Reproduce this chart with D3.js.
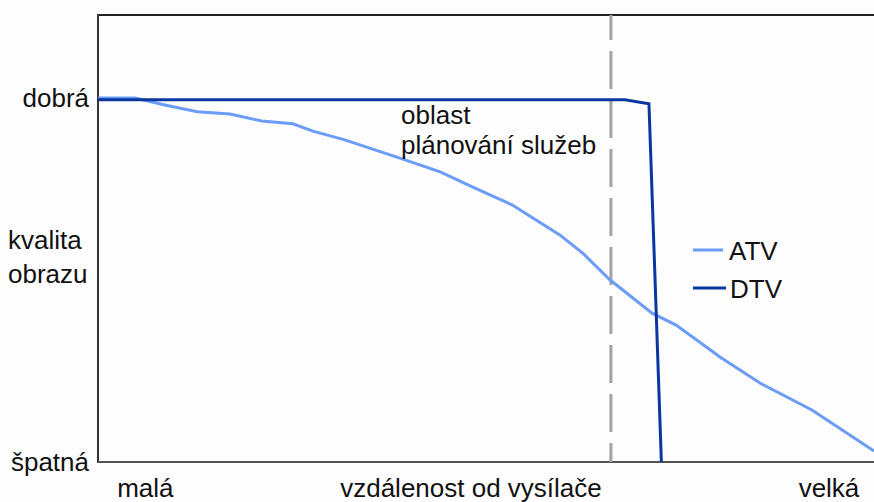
<!DOCTYPE html>
<html>
<head>
<meta charset="utf-8">
<script src="https://cdn.jsdelivr.net/npm/d3@7"></script>
<style>
  body { margin: 0; background: #fdfdfd; }
  svg { display: block; }
  text { font-family: "Liberation Sans", Arial, sans-serif; font-size: 26px; fill: #111; }
</style>
</head>
<body>
<svg width="874" height="502"></svg>
<script>
// vzdálenost (0 = malá, 100 = velká), kvalita (0 = špatná, 100 = dobrá)
var atvDist    = [0, 4.8, 8.6, 12.8, 17.0, 21.1, 25.1, 27.7, 31.8, 38.9, 44.1, 48.3, 53.4, 59.5, 62.1, 62.6, 66.0, 71.4, 74.5, 80.2, 85.3, 92.0, 100];
var atvQuality = [100, 100, 98.1, 96.2, 95.6, 93.7, 92.9, 90.9, 88.5, 83.5, 79.7, 75.5, 70.6, 62.4, 58.0, 57.1, 50.0, 40.9, 37.6, 28.8, 21.7, 14.3, 3.0];

var dtvDist    = [0, 67.9, 71.0, 72.6];
var dtvQuality = [99.5, 99.5, 98.4, 0];

var planningLimit = 66.1;   // hranice oblasti plánování
var yTickVals   = [100, 0];
var yTickLabels = ["dobrá", "špatná"];
var xTickVals   = [6.1, 94.2];
var xTickLabels = ["malá", "velká"];
var yTitle = ["kvalita", "obrazu"];
var xTitle = "vzdálenost od vysílače";
var areaLabel = ["oblast", "plánování služeb"];
var seriesNames = ["ATV", "DTV"];
var seriesColors = ["#6a9cf8", "#0a36a0"];

var svg = d3.select("svg");

var x = d3.scaleLinear().domain([0, 100]).range([98, 874]);
var y = d3.scaleLinear().domain([0, 100]).range([462, 98]);

var line = d3.line()
    .x(function(d) { return x(d[0]); })
    .y(function(d) { return y(d[1]); });

// frame: left, top, bottom
svg.append("path")
    .attr("d", "M" + x(0) + "," + (y(100) - 83) + "H874")
    .attr("stroke", "#222").attr("stroke-width", 2).attr("fill", "none");
svg.append("line")
    .attr("x1", x(0)).attr("x2", x(0))
    .attr("y1", y(100) - 84).attr("y2", y(0) + 1)
    .attr("stroke", "#333").attr("stroke-width", 2);
svg.append("line")
    .attr("x1", x(0)).attr("x2", 874)
    .attr("y1", y(0)).attr("y2", y(0))
    .attr("stroke", "#555").attr("stroke-width", 2);

// service planning boundary
svg.append("line")
    .attr("x1", x(planningLimit)).attr("x2", x(planningLimit))
    .attr("y1", y(100) - 83).attr("y2", y(0))
    .attr("stroke", "#a3a3a3").attr("stroke-width", 3)
    .attr("stroke-dasharray", "38,11")
    .attr("stroke-dashoffset", 13);

var atv = atvDist.map(function(d, i) { return [d, atvQuality[i]]; });
var dtv = dtvDist.map(function(d, i) { return [d, dtvQuality[i]]; });

svg.append("path").datum(atv)
    .attr("d", line)
    .attr("fill", "none")
    .attr("stroke", seriesColors[0]).attr("stroke-width", 3);

svg.append("path").datum(dtv)
    .attr("d", line)
    .attr("fill", "none")
    .attr("stroke", seriesColors[1]).attr("stroke-width", 3);

// y tick labels
svg.selectAll(".ytick")
    .data(yTickVals)
  .enter().append("text")
    .attr("class", "ytick")
    .attr("x", 89)
    .attr("y", function(d) { return y(d) + 9; })
    .attr("text-anchor", "end")
    .text(function(d, i) { return yTickLabels[i]; });

svg.selectAll(".ytitle")
    .data(yTitle)
  .enter().append("text")
    .attr("class", "ytitle")
    .attr("x", 8)
    .attr("y", function(d, i) { return 249 + i * 34; })
    .text(function(d) { return d; });

// x tick labels
svg.selectAll(".xtick")
    .data(xTickVals)
  .enter().append("text")
    .attr("class", "xtick")
    .attr("x", function(d) { return x(d); })
    .attr("y", 497)
    .attr("text-anchor", "middle")
    .text(function(d, i) { return xTickLabels[i]; });

svg.append("text")
    .attr("x", 471)
    .attr("y", 497)
    .attr("text-anchor", "middle")
    .text(xTitle);

svg.selectAll(".area")
    .data(areaLabel)
  .enter().append("text")
    .attr("class", "area")
    .attr("x", 401)
    .attr("y", function(d, i) { return 124 + i * 30; })
    .text(function(d) { return d; });

// legend
var legend = svg.selectAll(".legend")
    .data(seriesNames)
  .enter().append("g")
    .attr("class", "legend")
    .attr("transform", function(d, i) { return "translate(693," + (250 + i * 38) + ")"; });

legend.append("line")
    .attr("x1", 0).attr("x2", function(d, i) { return i ? 33 : 30; })
    .attr("stroke", function(d, i) { return seriesColors[i]; })
    .attr("stroke-width", 3);

legend.append("text")
    .attr("x", function(d, i) { return i ? 37 : 36; })
    .attr("y", 10)
    .text(function(d) { return d; });
</script>
</body>
</html>
